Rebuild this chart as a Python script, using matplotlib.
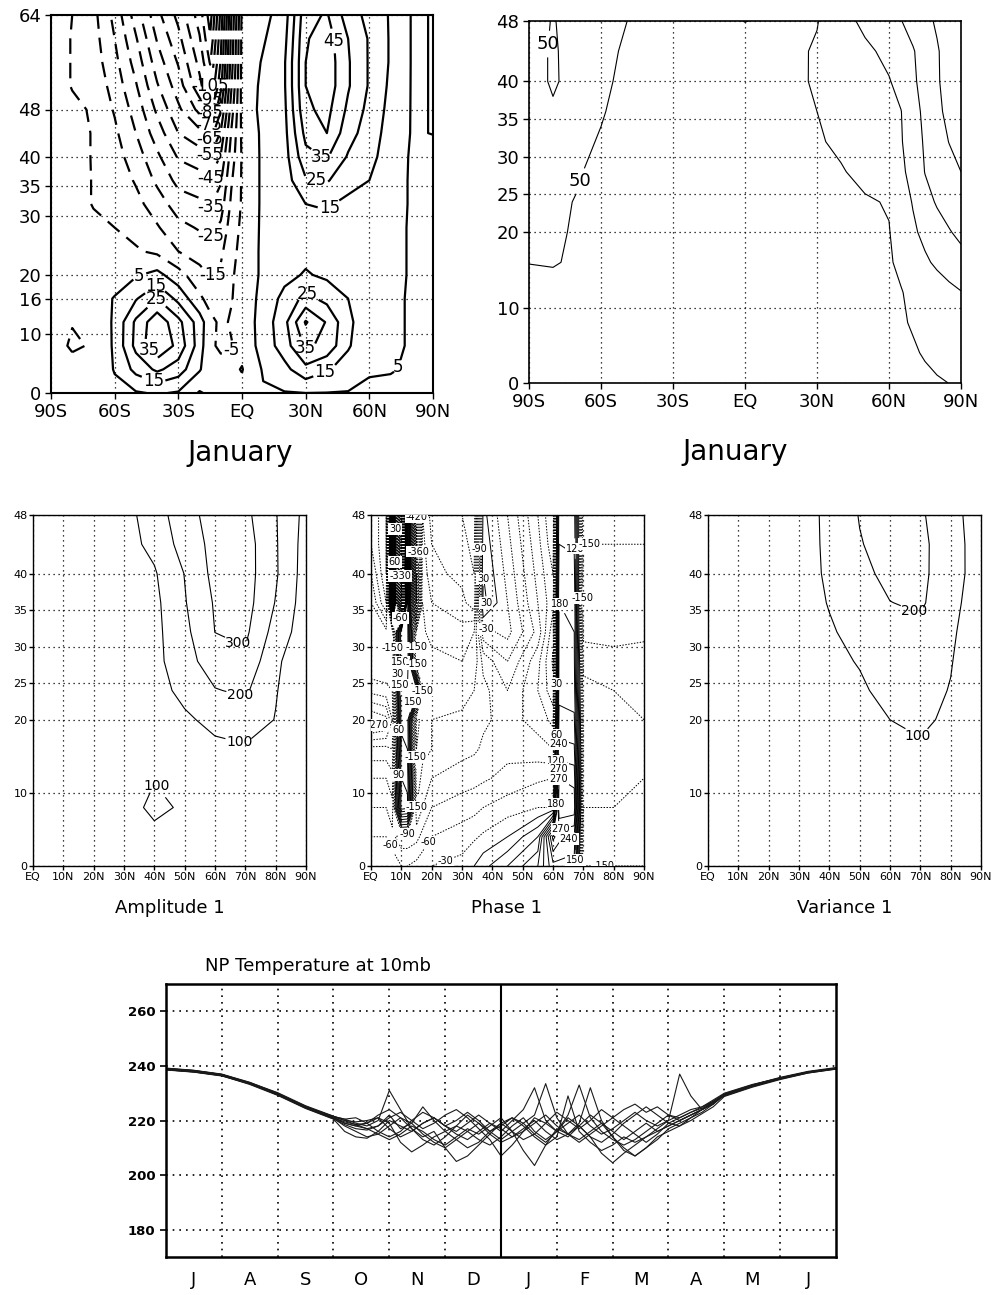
import numpy as np
import matplotlib.pyplot as plt

# ---- zonal mean wind, January (rows: level index 0..64, cols: latitude) ----
wind_lats = [-90, -80, -70, -60, -50, -40, -30, -20, -15, -10, -5, 0, 10, 20, 30, 40, 50, 60, 70, 80, 90]
wind_levs = [0, 4, 8, 12, 16, 20, 24, 28, 32, 36, 40, 44, 48, 52, 56, 60, 64]
wind_jan = [
    [0, -1, 0, 3, 4, 6, 4, -6, -3, -1, -1, -2, 4, 4.5, 5, 4.8, 4.5, 3, 3, 4, 3],
    [0, -1, -1, 5.5, 18, 27, 20, 6, -2, -3, -3, -5.5, 6, 12, 22, 16, 11, 6, 5.5, 4, 3],
    [0, -6.5, -4, 6.5, 28, 44, 32, 10, -4, -6, -5.5, -2, 9, 20, 37, 32, 16, 8, 7, 4, 3],
    [0, -4.5, -3, 6.5, 27, 42, 28, 10, -2, -7, -4, -1, 9, 22, 46, 34, 17, 9, 7, 4, 3],
    [0, -1, 1, 5.5, 14, 25, 12, -3, -9, -9, -5.5, -1, 8, 18, 28, 22, 15, 9, 7, 4, 3],
    [0, -1, 0, 1, 4, 8, -1, -12, -15.5, -13, -6, -2, 7, 12, 16, 13, 11, 9, 8, 4, 3],
    [0, -1, -1, -2, -4, -7, -15, -19, -21, -17, -8, -2, 7, 10, 12, 11, 10, 9, 8, 4, 3],
    [0, -1, -3, -5, -8, -14, -22, -26, -28, -23, -10, -3, 7, 10, 12, 12, 11, 10, 8, 4, 3],
    [0, -1, -5.5, -7, -12, -20, -30, -33, -36, -30, -13, -4, 7, 10, 15, 16, 13, 12, 9, 4, 3],
    [0, -1, -5.5, -9, -16, -27, -38, -41, -44, -36, -16, -4, 7, 10, 24, 26, 18, 15, 9, 4, 3],
    [0, -2, -5.5, -11, -20, -33, -46, -50, -54, -44, -20, -4, 7, 11, 32, 36, 24, 18, 10, 4, 3],
    [0, -2, -5.5, -13, -25, -40, -55, -62, -70, -54, -24, -3, 7, 12, 38, 45, 29, 20, 11, 4.5, 5.15],
    [0, -3, -6, -16, -29, -47, -63, -78, -88, -66, -30, -2, 8, 13, 43, 48, 33, 22, 12, 4.5, 5.15],
    [0, -5.5, -8, -19, -34, -54, -70, -92, -106, -78, -36, -1, 7, 14, 45, 51, 36, 24, 13, 4.5, 5.15],
    [0, -5.5, -10, -22, -39, -60, -76, -98, -116, -84, -40, -2, 6, 14, 45, 51, 36, 24, 14, 4.5, 5.15],
    [0, -5.5, -11, -25, -44, -66, -82, -104, -124, -88, -42, -2, 4, 12, 44, 50, 35, 24, 14, 4.5, 5.15],
    [0, -5, -12, -28, -50, -72, -88, -110, -130, -92, -45, -3, 2, 10, 42, 46, 30, 22, 14, 4.5, 5.15],
]
wind_label_pos = [(37.6, 59.5), (-15.5, 51.9), (-15.5, 49.6), (-15.5, 47.4), (-15.5, 45.3),
                  (-15.5, 42.9), (-15.5, 40.3), (-15, 36.5), (-15, 31.6), (-14, 26.4),
                  (-13, 19.6), (-3, 7), (34.4, 38.6), (34.4, 35.2), (40.7, 31.5),
                  (-50.4, 21.5), (-41.8, 18.6), (-40, 15.8), (-42, 7.9), (-41.8, 1.9),
                  (32, 17.5), (29.7, 7.6), (40, 2.7), (74.4, 4.4)]

# ---- second January field ----
fld_lats = [-90, -80, -70, -60, -50, -40, -20, 0, 20, 30, 40, 50, 60, 65, 70, 75, 80, 85, 90]
fld_levs = [0, 4, 8, 12, 16, 20, 24, 28, 32, 36, 40, 44, 48]
fld_jan = [
    [40, 40, 39, 38, 37, 36, 35, 34, 35, 36, 37, 38, 40, 41, 42, 45, 47.5, 50.2, 52],
    [41, 41, 40, 39, 38, 37, 35, 34, 35, 36, 37, 39, 42, 44, 47.5, 52, 57, 63, 70],
    [42, 42, 41, 40, 38, 37, 35, 34, 35, 36, 38, 40, 44, 47.5, 52, 60, 68, 76, 85],
    [45, 45, 43, 41, 39, 37, 35, 34, 35, 36, 38, 41, 45, 48.5, 57, 67, 77, 88, 98],
    [50.3, 51, 48, 44, 41, 39, 36, 35, 36, 38, 40, 43, 47, 56, 74.5, 92.7, 108, 121.5, 135],
    [53, 51.5, 49, 45, 42, 39, 36, 35, 37, 39, 41, 44, 48.5, 66.5, 92.3, 112, 129, 147, 160],
    [54, 52, 49.5, 46, 43, 40, 36, 35, 38, 40, 43, 46, 52.5, 77.5, 103, 132, 155, 167.5, 180],
    [55, 53, 51, 47, 44, 41, 36, 35, 40, 43, 47, 60.6, 82, 92.6, 112.5, 151.6, 167.7, 184, 200],
    [56, 54, 53, 49, 45, 41, 36, 35, 40, 46, 57, 73, 89, 96.8, 123, 156.8, 179.5, 201, 210],
    [56, 52, 55, 51, 46, 42, 36, 35, 42, 50, 64, 78, 92, 98.9, 130, 162.6, 191.4, 210, 225],
    [57, 48, 56, 53, 47, 43, 37, 35, 43, 54, 68.5, 82.8, 97.1, 115.8, 142, 168.4, 194.7, 218, 240],
    [57, 48, 57, 54, 48.5, 44, 37, 36, 42, 54.4, 71.9, 89.5, 113, 129.7, 146.7, 170, 195, 222, 250],
    [58, 49, 57, 54, 50.5, 45, 38, 50.6, 42, 48, 79, 112.7, 136.6, 148.6, 166.7, 185.7, 206.7, 233, 260],
]

# ---- wave 1 amplitude / phase / variance (EQ..90N) ----
wave_lats = [0, 10, 20, 30, 40, 50, 60, 70, 80, 90]
wave_levs = [0, 4, 8, 12, 16, 20, 24, 28, 32, 36, 40, 44, 48]
amp1 = [
    [4, 6, 10, 15, 20, 18, 15, 12, 8, 5],
    [6, 10, 20, 40, 70, 40, 30, 25, 18, 10],
    [8, 14, 28, 55, 125, 85, 45, 35, 25, 15],
    [8, 12, 22, 50, 95, 65, 55, 50, 40, 20],
    [9, 12, 20, 32, 50, 60, 80, 90, 70, 25],
    [10, 14, 22, 35, 55, 85, 125, 145, 97, 30],
    [12, 16, 25, 40, 65, 125, 195, 215, 105, 35],
    [13, 18, 28, 45, 70, 163, 250, 280, 115, 40],
    [14, 20, 32, 50, 72, 175, 301, 320, 160, 45],
    [15, 22, 35, 55, 75, 193, 310, 340, 195, 50],
    [16, 25, 38, 60, 90, 203, 330, 345, 212, 55],
    [18, 28, 42, 65, 125, 242, 330, 345, 210, 60],
    [20, 30, 45, 70, 142, 272, 330, 325, 206, 70],
]
var1 = [
    [2, 3, 6, 9, 12, 15, 18, 20, 18, 8],
    [3, 5, 10, 15, 22, 28, 32, 35, 30, 12],
    [4, 6, 12, 20, 30, 38, 45, 50, 42, 15],
    [4, 8, 14, 25, 38, 48, 60, 68, 55, 18],
    [5, 9, 17, 30, 45, 60, 80, 90, 70, 20],
    [6, 10, 20, 35, 55, 75, 100, 115, 85, 25],
    [7, 12, 22, 40, 68, 88, 125, 130, 96, 30],
    [8, 14, 25, 45, 80, 105, 145, 150, 105, 35],
    [8, 15, 28, 50, 90, 130, 165, 175, 115, 40],
    [9, 16, 30, 55, 105, 150, 198, 215, 130, 45],
    [10, 18, 32, 58, 115, 170, 230, 222, 145, 50],
    [10, 20, 35, 60, 118, 194, 240, 225, 140, 55],
    [10, 20, 35, 60, 120, 205, 245, 215, 127, 60],
]
phase_lats = [0, 5, 7, 10, 12, 15, 17, 20, 30, 34, 37, 45, 55, 60, 62, 67, 70, 80, 90]
phase1 = [
    [-30, -30, -35, -60, -60, -50, -40, -30, -20, 0, 20, 60, 120, 200, 200, 190, -150, -150, -150],
    [-60, -60, -80, -110, -110, -100, -80, -60, -45, -35, -25, 0, 60, 280, 250, 240, -140, -140, -140],
    [-90, -90, -110, 230, 220, -150, -120, -90, -75, -70, -60, -45, -30, -30, 330, 320, -120, -120, -130],
    [-120, -120, -140, 210, 200, -170, -140, -120, -105, -100, -95, -80, -65, -60, 300, 290, -110, -110, -120],
    [-170, -170, -180, 190, 180, -180, -160, -150, -130, -125, -115, -100, -110, -120, 250, 245, -100, -105, -115],
    [-300, -280, -210, 170, 170, -190, -170, -150, -145, -140, -125, -110, -130, -160, 220, 215, -100, -110, -120],
    [-200, -190, -180, 180, 180, 170, -160, -150, -160, -150, -130, -90, -150, -200, 200, 195, -110, -120, -125],
    [-150, -150, -150, 210, 210, -160, -165, -170, -180, -170, -110, -60, -140, -215, 190, 185, -130, -140, -140],
    [-150, -170, -180, 210, 200, -170, -175, -190, -200, -180, -40, -20, -100, -200, 185, 180, -160, -160, -155],
    [-180, -270, 300, -510, 210, -450, -180, -210, -230, -260, 40, -30, -120, -170, 180, 175, -180, -170, -160],
    [-210, -300, 240, -420, 300, -450, -190, -230, -250, -270, 30, -40, -130, -180, 165, 160, -170, -165, -160],
    [-240, -300, 270, -450, 240, -420, -200, -240, -260, -280, 20, -50, -140, -200, 150, 145, -150, -150, -150],
    [-240, -300, 210, -420, 250, -420, -210, -250, -270, -290, 10, -60, -150, -210, 140, 135, -140, -145, -145],
]
phase_label_pos = [(15, 47.7), (7.9, 46.1), (15.6, 43), (7.9, 41.6), (9.6, 39.7), (9, 33.8),
                   (16, 29.9), (3, 29.9), (9.6, 27.9), (16.7, 27.7), (8.5, 26.3), (9.6, 24.7),
                   (12.3, 22.6), (23.8, 23.8), (2.4, 19), (9, 18.6), (15, 14.9), (9, 12.4),
                   (15.6, 8.1), (12.3, 4.4), (5.2, 2.6), (21.6, 2.6), (23.8, 1.5), (36, 43.4),
                   (37, 39.3), (38.1, 35.9), (38, 32.5), (61.2, 24.9), (61, 17.9), (62.3, 16.7),
                   (61.2, 14.4), (62.3, 13.3), (61.8, 11.9), (61.2, 8.5), (62.9, 4.6), (65.6, 3.3),
                   (67.3, 0.8), (76.6, 1.9), (66.7, 43.4), (72.2, 43.8), (64.5, 36.3), (73.3, 36.6)]

# ---- North Pole 10mb temperature, July..June (x in months from 1 July) ----
month_pos = np.concatenate([np.arange(0, 3.01, 0.5), np.arange(3.2, 9.81, 0.2), np.arange(10, 12.01, 0.5)])
t10_y1 = [239.2, 238.4, 237.0, 234.0, 230.0, 225.0, 221.5,
          220.5, 219, 218, 220, 231, 224, 217, 213, 211, 214, 218, 216, 213, 211, 214, 218, 221, 216,
          213, 216, 219, 222, 218, 215, 217, 220, 223, 220, 218, 220, 237, 229, 224, 226,
          229.5, 232.8, 235.5, 237.8, 239.2]
t10_y2 = [238.8, 238.2, 236.8, 233.6, 229.6, 224.6, 220.8,
          218, 216, 214, 215, 218, 221, 219, 215, 212, 210, 213, 216, 219, 215, 212, 214, 217, 220,
          216, 213, 215, 218, 214, 208, 204.5, 208, 211, 214, 216, 218, 220, 222, 224, 226.5,
          229.2, 232.6, 235.3, 237.6, 239.0]
t10_y3 = [238.6, 237.8, 236.4, 233.2, 229.2, 224.4, 220.5,
          216, 214, 213.5, 216, 220, 218, 216, 219, 221, 218, 215, 213, 216, 219, 217, 214, 216, 219,
          222, 218, 215, 213, 216, 219, 214, 210, 207, 210, 214, 216, 218, 220, 222.5, 225,
          228.8, 232.2, 235.0, 237.4, 238.8]
t10_y4 = [239.0, 238.2, 236.8, 233.9, 230.2, 225.4, 221.6,
          220, 219.5, 220, 221, 219, 212, 208.5, 211, 214, 216, 218, 222, 219, 216, 213, 216, 219, 215,
          212, 216, 221, 218, 214, 212, 215, 219, 222, 225, 222, 219, 218, 221, 224, 227,
          229.8, 233.0, 235.8, 238.0, 239.4]
t10_y5 = [238.7, 237.9, 236.5, 233.5, 229.4, 224.9, 221.2,
          219, 218, 217, 218, 222, 217, 219, 225, 220, 216, 213, 210, 212, 216, 219, 216, 213, 215,
          219, 223, 220, 217, 220, 224, 221, 224, 226, 223, 225, 222, 221, 223, 225, 227.5,
          230.0, 233.2, 235.6, 237.8, 239.1]
t10_y6 = [239.1, 238.3, 236.9, 233.7, 229.9, 225.2, 221.0,
          219.5, 218.5, 219, 222, 224, 221, 217, 214, 216, 210, 205, 207, 211, 215, 219, 221, 218, 214,
          211, 214, 229, 216, 212, 209, 211, 214, 212, 214, 217, 220, 222, 224, 225, 227,
          229.2, 232.6, 235.4, 237.6, 239.0]
t10_y7 = [238.5, 237.7, 236.3, 233.4, 229.4, 224.6, 220.6,
          218.5, 217, 216.5, 218, 221, 223, 220, 217, 219, 222, 224, 221, 217, 213, 207, 211, 216, 221,
          219, 216, 214, 218, 222, 219, 216, 213, 216, 219, 216, 218, 220, 222, 224, 226.5,
          229.0, 232.4, 235.2, 237.4, 238.9]
t10_y8 = [239.0, 238.3, 236.8, 233.8, 229.7, 225.0, 221.3,
          220, 218.5, 217, 215, 213, 215, 218, 216, 213, 211, 214, 217, 215, 218, 221, 216, 209, 203.5,
          211, 217, 215, 212, 215, 218, 221, 218, 215, 212, 215, 219, 221, 223, 224.5, 227,
          229.6, 233.0, 235.6, 237.8, 239.2]
t10_y9 = [238.9, 238.0, 236.6, 233.6, 229.6, 224.8, 221.0,
          219, 218, 219, 221, 217, 214, 216, 219, 221, 218, 216, 219, 222, 219, 216, 220, 224, 232,
          220, 216, 222, 233, 221, 216, 213, 211, 213, 216, 219, 222, 220, 222, 224, 226,
          229.3, 232.7, 235.3, 237.6, 239.0]
t10_y10 = [238.6, 237.8, 236.5, 233.5, 229.8, 225.2, 221.4,
           220.5, 221, 219, 216, 214, 216, 220, 223, 221, 218, 220, 223, 220, 216, 218, 221, 219, 222,
           233.5, 221, 215, 219, 232, 220, 214, 209, 207, 210, 213, 217, 219, 221, 223, 226,
           229.5, 232.9, 235.5, 237.7, 239.1]
month_names = ['J', 'A', 'S', 'O', 'N', 'D', 'J', 'F', 'M', 'A', 'M', 'J']

fig = plt.figure(figsize=(10.03, 12.95), dpi=100)
DOT = (0, (1, 3))


def frame(ax, lw, size, pad=3):
    for s in ax.spines.values():
        s.set_linewidth(lw)
    ax.tick_params(direction='out', length=4, width=1, labelsize=size, pad=pad)
    ax.grid(True, color='k', linestyle=DOT, linewidth=0.9)
    ax.set_axisbelow(True)


def flat_labels(texts, boxed=False):
    for t in texts:
        t.set_rotation(0)
        if boxed:
            t.set_bbox(dict(facecolor='white', edgecolor='none', pad=0.6))


# top left: zonal wind
ax1 = fig.add_axes([51 / 1003, 1 - 393 / 1295, 382 / 1003, 378 / 1295])
wlev = np.arange(-165, 56, 10)
cs = ax1.contour(wind_lats, wind_levs, np.array(wind_jan), levels=wlev, colors='k', linewidths=1.6,
                 linestyles=[(0, (7, 4)) if v < 0 else '-' for v in wlev])
flat_labels(ax1.clabel(cs, manual=wind_label_pos, fmt='%d', fontsize=12, inline=True, inline_spacing=2))
ax1.set_xlim(-90, 90)
ax1.set_ylim(0, 64)
ax1.set_xticks([-90, -60, -30, 0, 30, 60, 90], ['90S', '60S', '30S', 'EQ', '30N', '60N', '90N'])
ax1.set_yticks([0, 10, 16, 20, 30, 35, 40, 48, 64])
frame(ax1, 1.5, 13)
fig.text(240 / 1003, 1 - 453 / 1295, 'January', fontsize=20, ha='center', va='center')

# top right
ax2 = fig.add_axes([529 / 1003, 1 - 383 / 1295, 432 / 1003, 362 / 1295])
cs2 = ax2.contour(fld_lats, fld_levs, np.array(fld_jan), levels=[50, 100, 150, 200],
                  colors='k', linewidths=0.8)
flat_labels(ax2.clabel(cs2, levels=[50], manual=[(-71, 27), (-84, 45)], fmt='%d', fontsize=13,
                       inline=True, inline_spacing=2))
ax2.set_xlim(-90, 90)
ax2.set_ylim(0, 48)
ax2.set_xticks([-90, -60, -30, 0, 30, 60, 90], ['90S', '60S', '30S', 'EQ', '30N', '60N', '90N'])
ax2.set_yticks([0, 10, 20, 25, 30, 35, 40, 48])
frame(ax2, 1.2, 13)
fig.text(735 / 1003, 1 - 452 / 1295, 'January', fontsize=20, ha='center', va='center')

# middle row: wave 1 diagnostics
wave_x = [0, 10, 20, 30, 40, 50, 60, 70, 80, 90]
wave_xl = ['EQ', '10N', '20N', '30N', '40N', '50N', '60N', '70N', '80N', '90N']
mid = []
for left in (33, 371, 708):
    ax = fig.add_axes([left / 1003, 1 - 866 / 1295, 273 / 1003, 351 / 1295])
    ax.set_xlim(0, 90)
    ax.set_ylim(0, 48)
    ax.set_xticks(wave_x, wave_xl)
    ax.set_yticks([0, 10, 20, 25, 30, 35, 40, 48])
    frame(ax, 1.0, 8, pad=1)
    ax.tick_params(length=3)
    mid.append(ax)

cs3 = mid[0].contour(wave_lats, wave_levs, np.array(amp1), levels=[100, 200, 300], colors='k', linewidths=0.8)
flat_labels(mid[0].clabel(cs3, manual=[(41, 11), (68, 17), (68, 23), (67, 30)], fmt='%d',
                          fontsize=10, inline=True, inline_spacing=1))

plev = np.arange(-510, 331, 30)
cs4 = mid[1].contour(phase_lats, wave_levs, np.array(phase1), levels=plev, colors='k', linewidths=0.7,
                     linestyles=[(0, (1.5, 1.5)) if v < 0 else '-' for v in plev])
flat_labels(mid[1].clabel(cs4, manual=phase_label_pos, fmt='%d', fontsize=7, inline=True,
                          inline_spacing=1), boxed=True)

cs5 = mid[2].contour(wave_lats, wave_levs, np.array(var1), levels=[100, 200], colors='k', linewidths=0.8)
flat_labels(mid[2].clabel(cs5, manual=[(68, 17), (68, 35)], fmt='%d', fontsize=10,
                          inline=True, inline_spacing=1))

for x, name in ((170, 'Amplitude 1'), (507, 'Phase 1'), (845, 'Variance 1')):
    fig.text(x / 1003, 1 - 908 / 1295, name, fontsize=13, ha='center', va='center')

# bottom: NP temperature at 10mb
ax6 = fig.add_axes([166 / 1003, 1 - 1257 / 1295, 670 / 1003, 273 / 1295])
for series in (t10_y1, t10_y2, t10_y3, t10_y4, t10_y5, t10_y6, t10_y7, t10_y8, t10_y9, t10_y10):
    ax6.plot(month_pos, series, color='#1a1a1a', linewidth=0.8)
ax6.set_xlim(0, 12)
ax6.set_ylim(170, 270)
ax6.set_yticks([180, 200, 220, 240, 260])
ax6.set_xticks(np.arange(0.5, 12, 1), month_names)
ax6.set_xticks([m for m in range(1, 12) if m != 6], minor=True)
for s in ax6.spines.values():
    s.set_linewidth(1.8)
ax6.tick_params(axis='y', direction='out', length=4, width=1.2, labelsize=9.5)
ax6.tick_params(axis='x', which='both', length=0, labelsize=13, pad=10)
for t in ax6.get_yticklabels():
    t.set_fontweight('bold')
ax6.grid(True, axis='y', color='k', linestyle=DOT, linewidth=1.2)
ax6.grid(True, axis='x', which='minor', color='k', linestyle=DOT, linewidth=1.2)
ax6.axvline(6, color='k', linewidth=1.5)
fig.text(205 / 1003, 1 - 966 / 1295, 'NP Temperature at 10mb', fontsize=13, ha='left', va='center')

fig.savefig('out.png', dpi=100)
